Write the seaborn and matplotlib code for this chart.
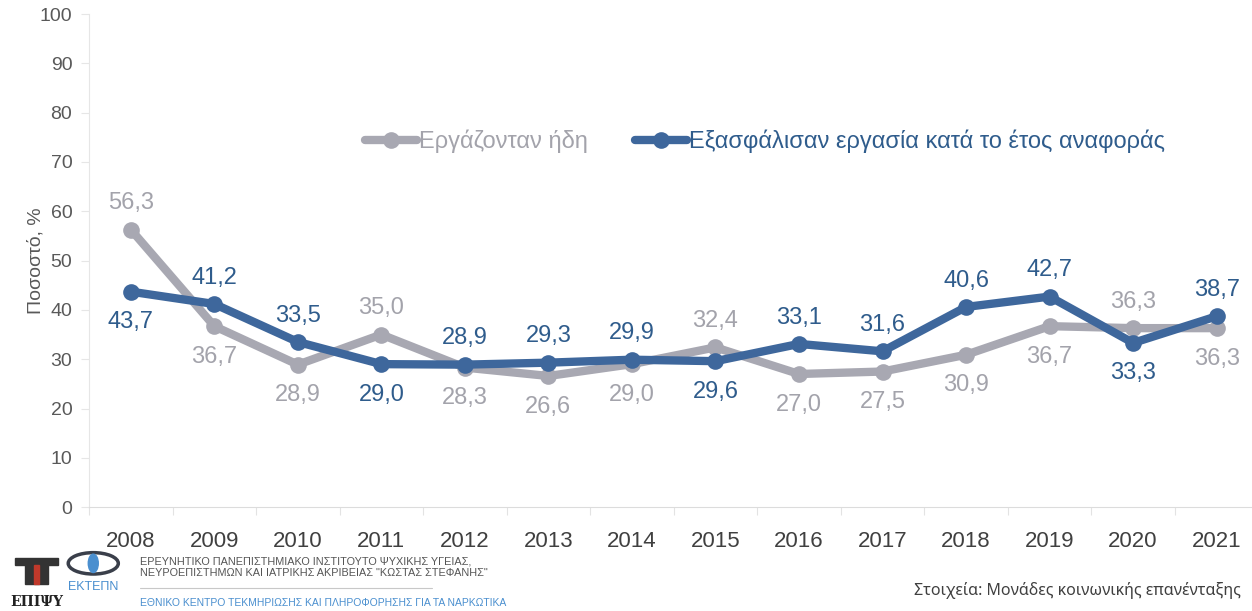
import pandas as pd
import matplotlib.pyplot as plt
import seaborn as sns
from matplotlib.patches import Ellipse, Rectangle

years = [2008, 2009, 2010, 2011, 2012, 2013, 2014, 2015, 2016, 2017, 2018, 2019, 2020, 2021]
already_working = [56.3, 36.7, 28.9, 35.0, 28.3, 26.6, 29.0, 32.4, 27.0, 27.5, 30.9, 36.7, 36.3, 36.3]
found_work = [43.7, 41.2, 33.5, 29.0, 28.9, 29.3, 29.9, 29.6, 33.1, 31.6, 40.6, 42.7, 33.3, 38.7]
series_names = ['Εργάζονταν ήδη', 'Εξασφάλισαν εργασία κατά το έτος αναφοράς']

# which labels sit above the point (1) or below (0)
gray_above = [1, 0, 0, 1, 0, 0, 0, 1, 0, 0, 0, 0, 1, 0]
blue_above = [0, 1, 1, 0, 1, 1, 1, 0, 1, 1, 1, 1, 0, 1]

sns.set_style('white')
plt.rcParams['font.family'] = ['Liberation Sans Narrow', 'Liberation Sans', 'DejaVu Sans']

gray = '#A8A8B2'
blue = '#3E679C'
gray_txt = '#A3A3AB'
blue_txt = '#2F5C8C'

df = pd.DataFrame({
    'pos': list(range(len(years))) * 2,
    'value': already_working + found_work,
    'series': [series_names[0]] * len(years) + [series_names[1]] * len(years),
})

fig = plt.figure(figsize=(12.52, 6.11), dpi=100)
ax = fig.add_axes([0.0711, 0.170, 0.934, 0.807])

sns.lineplot(data=df, x='pos', y='value', hue='series', palette=[gray, blue],
             marker='o', markersize=12, linewidth=6, markeredgewidth=0, ax=ax)

for vals, above, col in [(already_working, gray_above, gray_txt), (found_work, blue_above, blue_txt)]:
    for i, v in enumerate(vals):
        dy = 19 if above[i] else -22
        ax.annotate(f'{v:.1f}'.replace('.', ','), (i, v), xytext=(0, dy),
                    textcoords='offset points', ha='center', va='center',
                    fontsize=17, color=col)

ax.set_xlim(-0.5, len(years) - 0.5)
ax.set_ylim(0, 100)
ax.set_yticks(range(0, 101, 10))
ax.set_xticks(range(len(years)))
ax.set_xticks([i + 0.5 for i in range(-1, len(years))], minor=True)
ax.set_xticklabels([str(y) for y in years])
ax.tick_params(axis='x', which='major', labelsize=16, colors='#404040', length=0, pad=17)
ax.tick_params(axis='x', which='minor', bottom=True, length=6, width=0.8, color='#E3E3E3')
ax.tick_params(axis='y', labelsize=14, colors='#595959', length=6, width=0.8, pad=6,
               color='#E6E6E6', left=True)
ax.set_xlabel('')
ax.set_ylabel('Ποσοστό, %', fontsize=14, color='#595959')
ax.yaxis.set_label_coords(-0.038, 0.5)

for s in ['top', 'right']:
    ax.spines[s].set_visible(False)
ax.spines['left'].set_color('#E6E6E6')
ax.spines['bottom'].set_color('#DCDCDC')

leg = ax.legend(loc='center', bbox_to_anchor=(0.578, 0.742), ncol=2, frameon=False,
                fontsize=17, handlelength=2.2, handletextpad=0.1, columnspacing=2.0)
for t, c in zip(leg.get_texts(), [gray_txt, blue_txt]):
    t.set_color(c)

# footer logos, roughly drawn
fig.add_artist(Rectangle((0.012, 0.075), 0.034, 0.012, transform=fig.transFigure, color='#333333'))
fig.add_artist(Rectangle((0.020, 0.045), 0.018, 0.032, transform=fig.transFigure, color='#333333'))
fig.add_artist(Rectangle((0.027, 0.045), 0.004, 0.03, transform=fig.transFigure, color='#C0392B'))
fig.text(0.029, 0.008, 'ΕΠΙΨΥ', fontsize=10, color='#222222', family='DejaVu Serif',
         weight='bold', ha='center')
fig.add_artist(Ellipse((0.0745, 0.078), 0.04, 0.035, transform=fig.transFigure,
                       fill=False, edgecolor='#3A3F4A', linewidth=2.5))
fig.add_artist(Ellipse((0.0745, 0.078), 0.008, 0.03, transform=fig.transFigure, color='#4A8FCF'))
fig.text(0.0745, 0.035, 'ΕΚΤΕΠΝ', fontsize=9, color='#4A8FCF', ha='center')
fig.text(0.112, 0.058, 'ΕΡΕΥΝΗΤΙΚΟ ΠΑΝΕΠΙΣΤΗΜΙΑΚΟ ΙΝΣΤΙΤΟΥΤΟ ΨΥΧΙΚΗΣ ΥΓΕΙΑΣ,\n'
         'ΝΕΥΡΟΕΠΙΣΤΗΜΩΝ ΚΑΙ ΙΑΤΡΙΚΗΣ ΑΚΡΙΒΕΙΑΣ "ΚΩΣΤΑΣ ΣΤΕΦΑΝΗΣ"',
         fontsize=7.8, color='#555555', linespacing=1.15)
fig.add_artist(plt.Line2D([0.112, 0.345], [0.038, 0.038], color='#C8C8C8', linewidth=0.8))
fig.text(0.112, 0.008, 'ΕΘΝΙΚΟ ΚΕΝΤΡΟ ΤΕΚΜΗΡΙΩΣΗΣ ΚΑΙ ΠΛΗΡΟΦΟΡΗΣΗΣ ΓΙΑ ΤΑ ΝΑΡΚΩΤΙΚΑ',
         fontsize=7.5, color='#4A8FCF')
fig.text(0.991, 0.026, 'Στοιχεία: Μονάδες κοινωνικής επανένταξης', ha='right',
         fontsize=11.5, color='#404040', family=['Noto Sans', 'DejaVu Sans'])

fig.savefig('out.png', dpi=100)
